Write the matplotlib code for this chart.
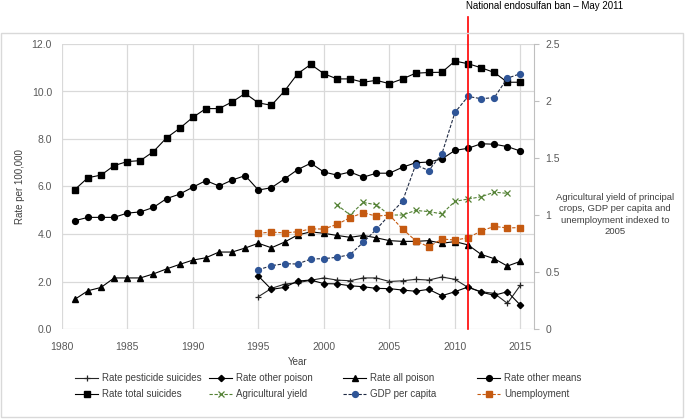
import matplotlib
matplotlib.use("Agg")
import matplotlib.pyplot as plt
from matplotlib.patches import Rectangle
import numpy as np

plt.rcParams['font.family'] = ['Liberation Sans Narrow', 'Liberation Sans', 'DejaVu Sans']

# data
years = list(range(1981, 2016))
years_95 = list(range(1995, 2016))
years_agri = list(range(2001, 2015))

rate_total = [5.87, 6.37, 6.48, 6.88, 7.05, 7.09, 7.47, 8.05, 8.45, 8.91, 9.28, 9.28,
              9.56, 9.92, 9.52, 9.42, 10.02, 10.75, 11.14, 10.75, 10.53, 10.53, 10.39,
              10.47, 10.33, 10.53, 10.77, 10.80, 10.81, 11.28, 11.17, 11.00, 10.80,
              10.39, 10.39]
rate_other_means = [4.56, 4.70, 4.70, 4.70, 4.88, 4.93, 5.12, 5.49, 5.68, 5.97, 6.25,
                    6.02, 6.27, 6.46, 5.85, 5.95, 6.32, 6.71, 6.98, 6.61, 6.48, 6.61,
                    6.39, 6.56, 6.56, 6.81, 7.00, 7.03, 7.16, 7.52, 7.61, 7.80, 7.78,
                    7.68, 7.49]
rate_all_poison = [1.25, 1.61, 1.75, 2.15, 2.15, 2.15, 2.32, 2.53, 2.72, 2.90, 3.00,
                   3.24, 3.24, 3.41, 3.61, 3.42, 3.66, 3.96, 4.09, 4.03, 3.94, 3.86,
                   3.94, 3.84, 3.72, 3.69, 3.69, 3.72, 3.61, 3.68, 3.54, 3.14, 2.96,
                   2.65, 2.85]
rate_pesticide = [1.36, 1.71, 1.89, 1.95, 2.05, 2.15, 2.06, 2.03, 2.15, 2.15, 2.00,
                  2.03, 2.09, 2.06, 2.19, 2.09, 1.75, 1.57, 1.50, 1.08, 1.85]
rate_other_poison = [2.23, 1.67, 1.75, 2.02, 2.06, 1.91, 1.90, 1.82, 1.78, 1.71, 1.70,
                     1.64, 1.59, 1.67, 1.40, 1.57, 1.77, 1.55, 1.42, 1.57, 1.00]
gdp = [0.52, 0.555, 0.573, 0.57, 0.614, 0.617, 0.629, 0.652, 0.76, 0.874, 1.0, 1.12,
       1.44, 1.39, 1.535, 1.90, 2.04, 2.02, 2.03, 2.20, 2.24]
unemployment = [0.84, 0.85, 0.843, 0.853, 0.878, 0.877, 0.918, 0.976, 1.02, 0.99, 1.0,
                0.877, 0.775, 0.72, 0.79, 0.78, 0.80, 0.86, 0.90, 0.886, 0.89]
agri_yield = [1.09, 1.00, 1.11, 1.09, 1.00, 1.00, 1.04, 1.03, 1.01, 1.12, 1.14, 1.16,
              1.20, 1.19]

ban_year = 2011
xticks = list(range(1980, 2020, 5))
left_ticks = [0, 2, 4, 6, 8, 10, 12]
right_ticks = [0, 0.5, 1, 1.5, 2, 2.5]
right_ticklabels = ['0', '0.5', '1', '1.5', '2', '2.5']

grey_txt = '#595959'
grid_c = '#d9d9d9'
fs = 7.5
fs_txt = 7

fig = plt.figure(figsize=(6.85, 4.19), dpi=100)
# outer chart frame
fig.patches.append(Rectangle((1/685, 2/419), 682/685, 384/419, transform=fig.transFigure,
                             fill=False, edgecolor=grid_c, lw=1.0))

ax = fig.add_axes([61.7/685, 90/419, 471.9/685, 285/419])
ax2 = ax.twinx()

ax.set_xlim(1980, 2016)
ax.set_ylim(0, 12)
ax2.set_ylim(0, 2.5)

ax.set_xticks(xticks)
ax.set_yticks(left_ticks)
ax.set_yticklabels(['%.1f' % v for v in left_ticks])
ax2.set_yticks(right_ticks)
ax2.set_yticklabels(right_ticklabels)

ax.grid(True, color=grid_c, lw=0.9)
ax.set_axisbelow(True)
for a in (ax, ax2):
    for s in a.spines.values():
        s.set_visible(False)
ax2.spines['right'].set_visible(True)
ax2.spines['right'].set_color('#bfbfbf')
ax.tick_params(axis='both', length=0, labelsize=fs, labelcolor=grey_txt)
ax.tick_params(axis='x', pad=9)
ax.tick_params(axis='y', pad=7)
ax2.tick_params(axis='y', length=3.5, color='#bfbfbf', labelsize=fs, labelcolor=grey_txt, pad=5)

lw = 0.8
h_pest, = ax.plot(years_95, rate_pesticide, color='#262626', lw=lw, marker='+', ms=5, mew=0.9)
h_oth, = ax.plot(years_95, rate_other_poison, color='black', lw=lw, marker='D', ms=3.2)
h_all, = ax.plot(years, rate_all_poison, color='black', lw=lw, marker='^', ms=4.2)
h_means, = ax.plot(years, rate_other_means, color='black', lw=lw, marker='o', ms=4.2)
h_total, = ax.plot(years, rate_total, color='black', lw=lw, marker='s', ms=4.2)

h_agri, = ax2.plot(years_agri, agri_yield, color='#548235', lw=lw, ls=(0, (3, 1.5)),
                   marker='x', ms=4.5, mew=0.9)
h_gdp, = ax2.plot(years_95, gdp, color='#1f2a44', lw=lw, ls=(0, (3, 1.5)), marker='o',
                  ms=4.2, mfc='#2f5597', mec='#2f5597')
h_unemp, = ax2.plot(years_95, unemployment, color='#c55a11', lw=lw, ls=(0, (3, 1.5)),
                    marker='s', ms=4.2)

# ban line and label
ax2.axvline(ban_year, ymin=0, ymax=(329 - 17) / 285, color='#ff0000', lw=1.2, clip_on=False)
ax2.text(ban_year - 0.15, (329 - 6.0) / 285, 'National endosulfan ban \u2013 May 2011',
         transform=ax2.get_xaxis_transform(), ha='left', va='center', fontsize=7,
         color='black')

ax.set_xlabel('Year', fontsize=fs_txt, color='#404040', labelpad=4)
ax.set_ylabel('Rate per 100,000', fontsize=fs_txt, color='#404040', labelpad=5)
fig.text(615/685, 1 - 214.5/419,
         'Agricultural yield of principal\ncrops, GDP per capita and\nunemployment indexed to\n2005',
         ha='center', va='center', fontsize=6.8, color='#404040', linespacing=1.35)

# legend, four columns of two entries
cols = [[h_pest, h_total], [h_oth, h_agri], [h_all, h_gdp], [h_means, h_unemp]]
labels = [['Rate pesticide suicides', 'Rate total suicides'],
          ['Rate other poison', 'Agricultural yield'],
          ['Rate all poison', 'GDP per capita'],
          ['Rate other means', 'Unemployment']]
col_x = [75, 209, 343, 477]
for hs, ls_, cx in zip(cols, labels, col_x):
    leg = fig.legend(hs, ls_, loc='upper left', bbox_to_anchor=(cx/685, 1 - 373/419),
                     frameon=False, fontsize=fs_txt, handlelength=2.4, handletextpad=0.4,
                     borderpad=0, borderaxespad=0, labelspacing=0.66, numpoints=1)
    for t in leg.get_texts():
        t.set_color('#404040')

fig.savefig('out.png', dpi=100)
